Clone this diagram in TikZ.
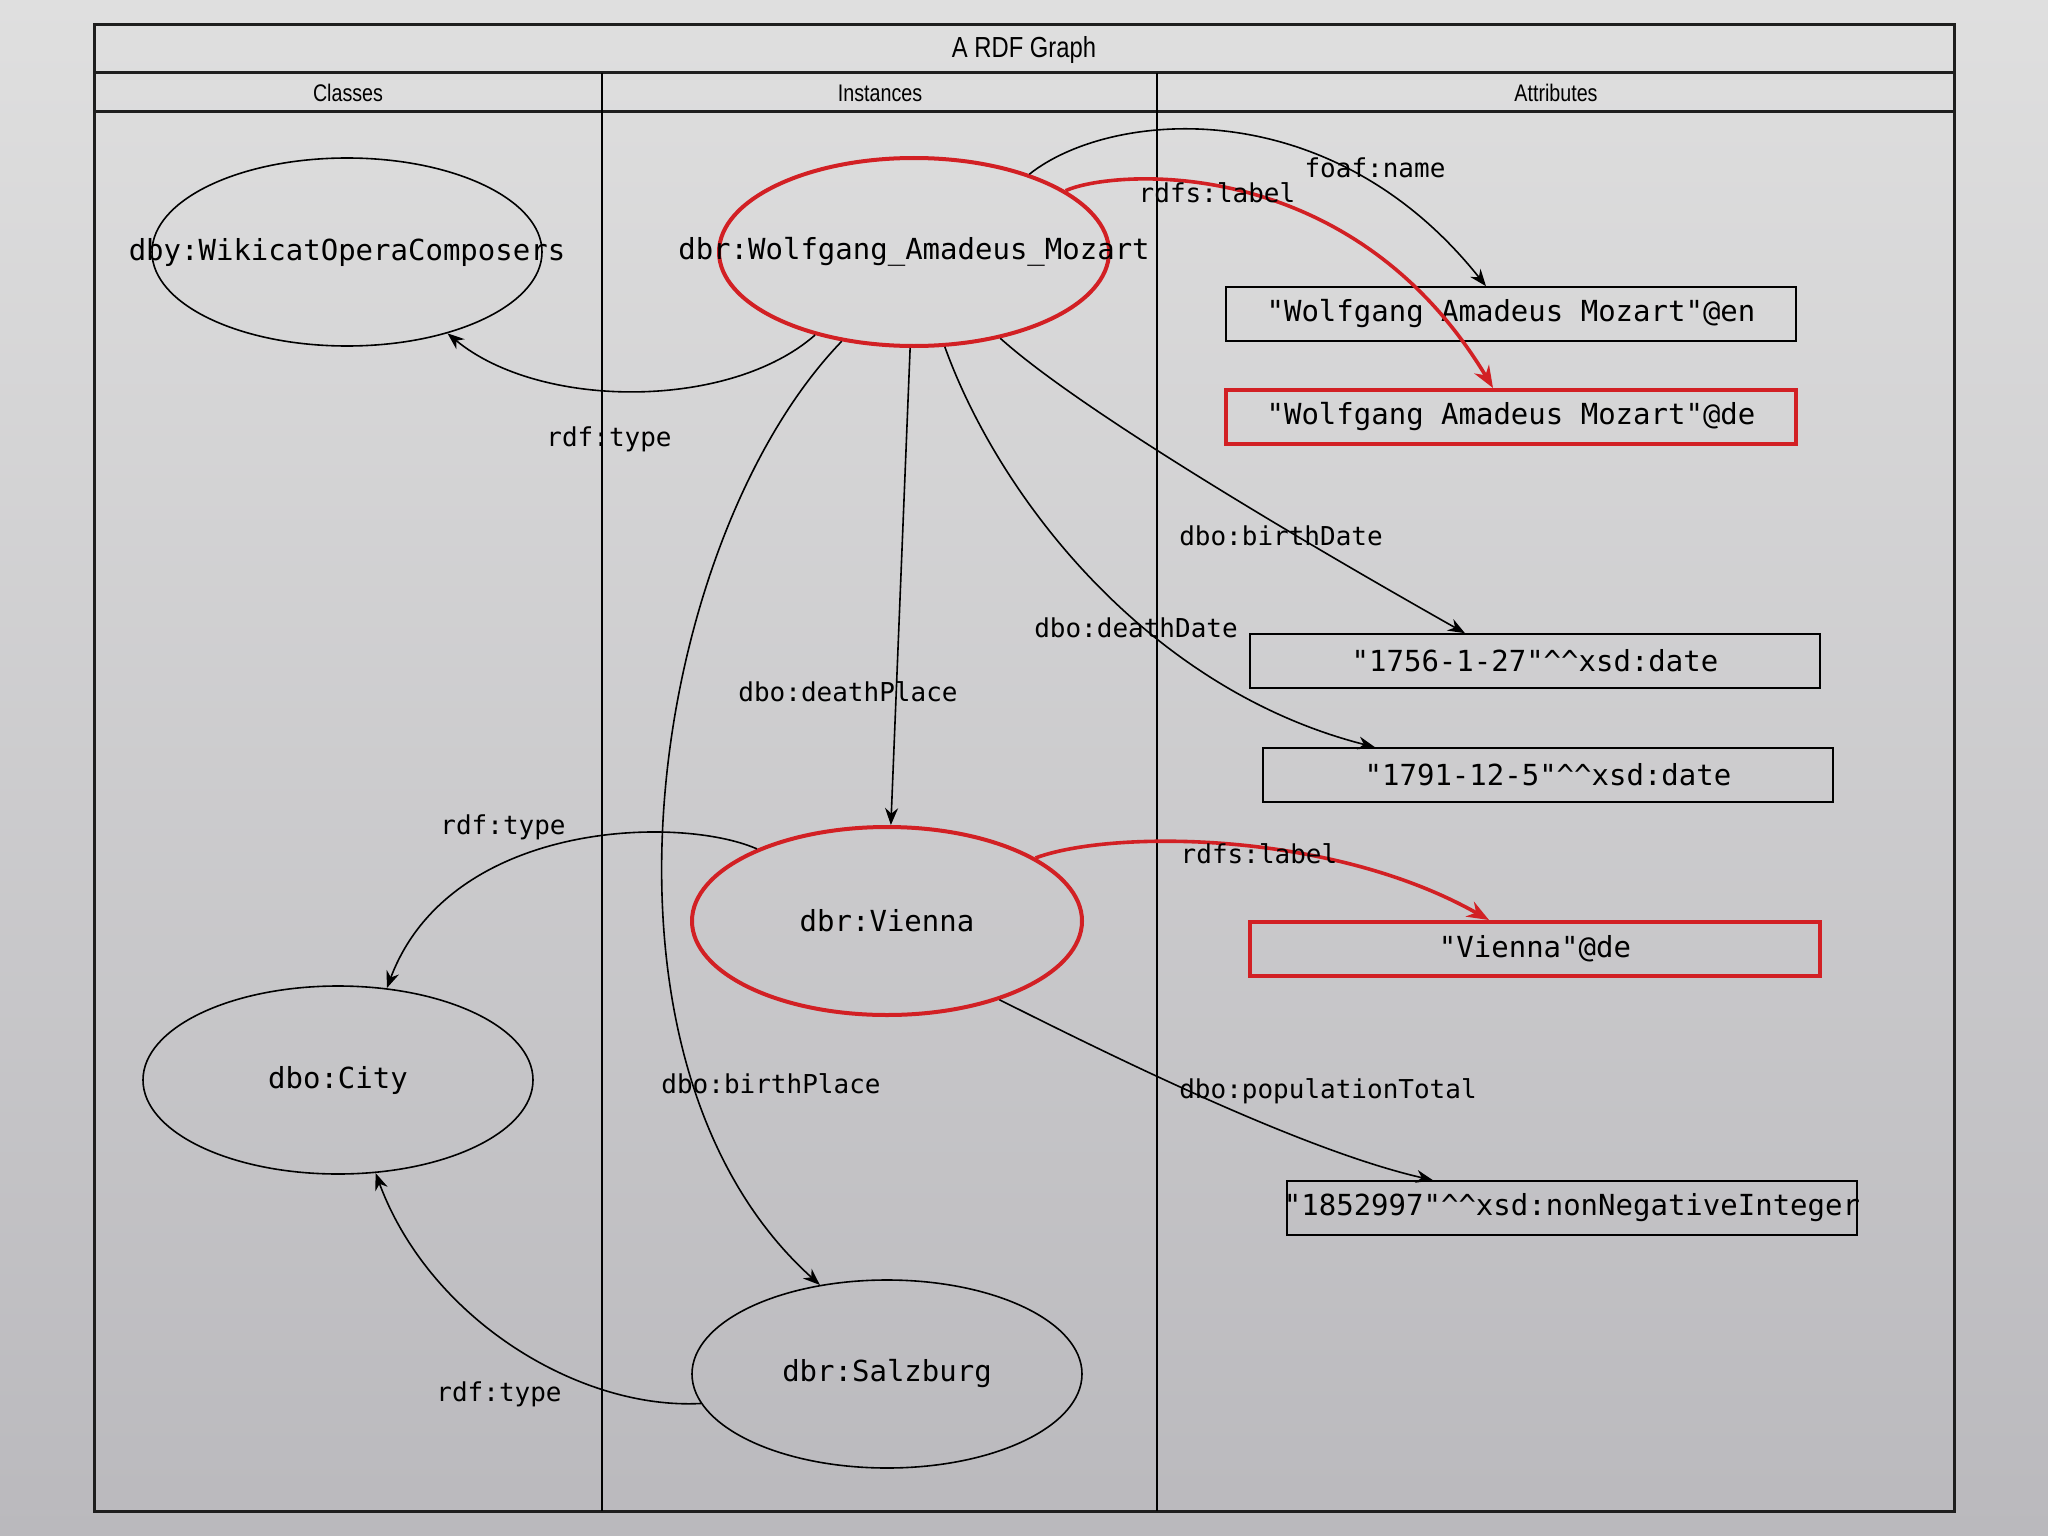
\documentclass[tikz,border=0pt]{standalone}
\usepackage{fontspec}
\usetikzlibrary{shapes.geometric,arrows.meta}
\newfontfamily\monofont{DejaVu Sans Mono}
\newfontfamily\headfont[FakeStretch=0.82]{Liberation Sans}
\definecolor{bgtop}{RGB}{223,223,223}
\definecolor{bgbot}{RGB}{186,185,189}
\definecolor{rdfred}{RGB}{210,32,36}
\definecolor{framec}{RGB}{30,30,30}
\tikzset{
  cls/.style={ellipse, draw=black, line width=1.6pt, minimum width=390pt, minimum height=188pt, inner sep=0pt, font=\monofont\fontsize{29}{34}\selectfont},
  inst/.style={cls, draw=rdfred, line width=4pt},
  lit/.style={rectangle, draw=black, line width=1.6pt, minimum width=570pt, minimum height=54pt, inner sep=0pt, font=\monofont\fontsize{29}{34}\selectfont},
  litred/.style={lit, draw=rdfred, line width=4pt},
  elabel/.style={font=\monofont\fontsize{26}{30}\selectfont, inner sep=0pt},
  edge/.style={line width=1.6pt, -{Stealth[length=17pt,width=13pt]}},
  rededge/.style={line width=3.6pt, draw=rdfred, -{Stealth[length=22pt,width=17pt]}},
  hdr/.style={font=\headfont\fontsize{24}{28}\selectfont, inner sep=0pt},
}
\newcommand{\ctext}[1]{\makebox[0pt][c]{\raisebox{-3pt}{#1}}}
\begin{document}
\begin{tikzpicture}[x=1pt,y=-1pt]
\useasboundingbox (0,0) rectangle (2048,1536);
\shade[top color=bgtop, bottom color=bgbot] (0,0) rectangle (2048,1536);
% frame
\draw[framec, line width=3pt] (94,25) rectangle (1954,1511);
\draw[framec, line width=3pt] (94,73) -- (1954,73);
\draw[framec, line width=3pt] (94,112) -- (1954,112);
\draw[black, line width=1.8pt] (602,73) -- (602,1511);
\draw[black, line width=1.8pt] (1157,73) -- (1157,1511);
\node[hdr, font=\headfont\fontsize{29}{32}\selectfont] (title) at (1024,50) {A RDF Graph};
\node[hdr] (hcls) at (348,93) {Classes};
\node[hdr] (hins) at (880,93) {Instances};
\node[hdr] (hatt) at (1556,93) {Attributes};
% nodes
\node[cls] (wik) at (347,252) {\ctext{dby:WikicatOperaComposers}};
\node[inst] (moz) at (914,252) {\ctext{dbr:Wolfgang\_Amadeus\_Mozart}};
\node[inst] (vie) at (887,921) {\ctext{dbr:Vienna}};
\node[cls] (city) at (338,1080) {\ctext{dbo:City}};
\node[cls] (salz) at (887,1374) {\ctext{dbr:Salzburg}};
\node[lit] (en) at (1511,314) {\ctext{"Wolfgang Amadeus Mozart"@en}};
\node[litred] (de) at (1511,417) {\ctext{"Wolfgang Amadeus Mozart"@de}};
\node[lit] (bd) at (1535,661) {\ctext{"1756-1-27"\textasciicircum\textasciicircum xsd:date}};
\node[lit] (dd) at (1548,775) {\ctext{"1791-12-5"\textasciicircum\textasciicircum xsd:date}};
\node[litred] (vde) at (1535,949) {\ctext{"Vienna"@de}};
\node[lit] (pop) at (1572,1208) {\ctext{"1852997"\textasciicircum\textasciicircum xsd:nonNegativeInteger}};
% edges
\draw[edge] (moz.-140) .. controls (730,410) and (540,410) .. (wik.-39);
\draw[edge] (moz.34) .. controls (1110,110) and (1330,90) .. ([xshift=-25pt]en.north);
\draw[rededge] (moz.22) .. controls (1110,170) and (1350,150) .. ([xshift=-18pt]de.north);
\draw[edge] (moz.-45) .. controls (1080,410) and (1300,540) .. ([xshift=-70pt]bd.north);
\draw[edge] (moz.-72) .. controls (1000,500) and (1150,690) .. ([xshift=-173pt]dd.north);
\draw[edge] (moz) -- (vie);
\draw[edge] (moz.-129) .. controls (650,540) and (570,1060) .. (salz.127);
\draw[edge] (vie.151) .. controls (680,815) and (450,820) .. (city.62);
\draw[rededge] (vie.23) .. controls (1110,830) and (1330,830) .. ([xshift=-46pt]vde.north);
\draw[edge] (vie.-35) .. controls (1100,1050) and (1300,1150) .. ([xshift=-139pt]pop.north);
\draw[edge] (salz.-171) .. controls (580,1410) and (430,1320) .. (city.-68);
% labels
\node[elabel] (l1) at (609,439) {rdf:type};
\node[elabel] (l2) at (1375,168) {foaf:name};
\node[elabel] (l3) at (1217,193) {rdfs:label};
\node[elabel] (l4) at (1281,536) {dbo:birthDate};
\node[elabel] (l5) at (1136,628) {dbo:deathDate};
\node[elabel] (l6) at (848,692) {dbo:deathPlace};
\node[elabel] (l7) at (503,827) {rdf:type};
\node[elabel] (l8) at (1259,854) {rdfs:label};
\node[elabel] (l9) at (771,1084) {dbo:birthPlace};
\node[elabel] (l10) at (1328,1091) {dbo:populationTotal};
\node[elabel] (l11) at (499,1394) {rdf:type};
\end{tikzpicture}
\end{document}
